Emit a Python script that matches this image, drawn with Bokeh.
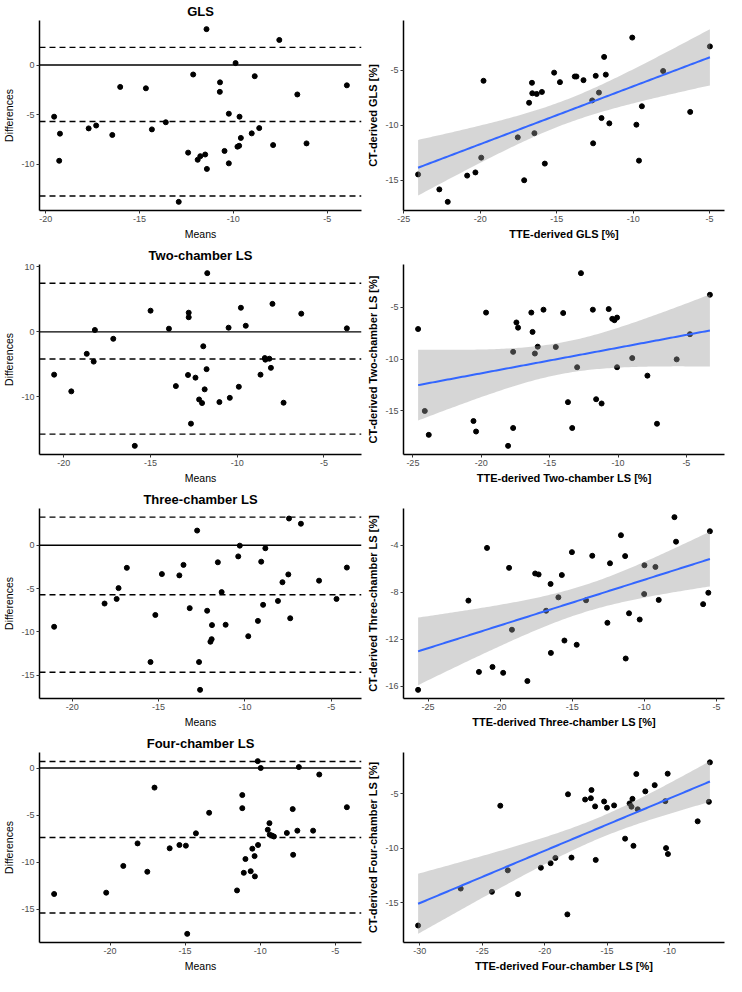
import numpy as np
from bokeh.plotting import figure
from bokeh.layouts import gridplot
from bokeh.models import Range1d, Span, FixedTicker
from bokeh.embed import file_html
from bokeh.resources import INLINE

# ---------------- data ----------------
panel_titles = ["GLS", "Two-chamber LS", "Three-chamber LS", "Four-chamber LS"]
scatter_xlabels = ["TTE-derived GLS [%]", "TTE-derived Two-chamber LS [%]",
                   "TTE-derived Three-chamber LS [%]", "TTE-derived Four-chamber LS [%]"]
scatter_ylabels = ["CT-derived GLS [%]", "CT-derived Two-chamber LS [%]",
                   "CT-derived Three-chamber LS [%]", "CT-derived Four-chamber LS [%]"]

gls_ba_mean = [-11.43, -7.55, -9.88, -12.14, -8.86, -10.71, -10.72, -16.03, -14.66, -6.59, -3.95, -19.55,
               -10.24, -9.67, -13.60, -17.71, -17.31, -19.24, -16.45, -14.34, -8.62, -9.60, -9.02, -19.28,
               -7.88, -6.10, -9.69, -9.78, -12.41, -11.50, -11.76, -11.90, -10.47, -10.24, -11.41, -12.91]
gls_ba_diff = [3.62, 2.53, 0.20, -0.95, -1.12, -1.74, -2.70, -2.20, -2.34, -2.96, -2.04, -5.20,
               -4.90, -5.20, -5.76, -6.38, -6.09, -6.91, -7.04, -6.48, -6.35, -7.34, -6.88, -9.64,
               -8.06, -7.89, -8.13, -8.22, -8.82, -9.01, -9.18, -9.54, -8.65, -9.90, -10.46, -13.78]
gls_ba_limits = [1.78, -5.69, -13.19]

gls_tte = [-24.07, -22.68, -22.13, -20.86, -20.32, -19.94, -19.79, -17.55, -17.13, -16.81, -16.62, -16.60,
           -16.31, -15.97, -16.46, -15.78, -15.17, -14.79, -13.82, -13.71, -13.25, -12.68, -12.62, -12.45,
           -12.24, -12.07, -11.90, -11.79, -11.56, -10.06, -9.79, -9.62, -9.43, -8.04, -6.27, -4.98]
gls_ct = [-14.47, -15.83, -16.96, -14.58, -14.29, -12.95, -5.98, -11.11, -15.00, -7.97, -6.16, -7.11,
          -7.17, -6.99, -10.73, -13.49, -5.24, -6.10, -5.59, -5.59, -5.92, -7.76, -11.65, -5.53,
          -7.05, -9.36, -3.81, -5.42, -9.84, -2.06, -9.96, -13.22, -8.29, -5.09, -8.80, -2.86]

two_ba_mean = [-11.73, -15.00, -12.80, -12.80, -9.79, -7.97, -6.31, -3.68, -18.21, -13.94, -10.50, -9.51,
               -17.15, -11.96, -18.68, -18.28, -8.41, -8.38, -8.15, -8.06, -11.77, -20.56, -12.84, -12.41,
               -8.66, -13.54, -9.91, -11.88, -19.57, -12.20, -12.03, -11.03, -10.43, -7.33, -12.67, -15.91]
two_ba_diff = [9.05, 3.27, 2.96, 2.26, 3.72, 4.32, 2.81, 0.55, 0.30, 0.50, 0.65, 0.95,
               -1.06, -2.21, -3.37, -4.57, -4.02, -4.27, -4.12, -5.53, -5.73, -6.58, -6.63, -7.04,
               -6.58, -8.34, -8.44, -8.84, -9.15, -10.40, -10.95, -10.80, -10.15, -10.90, -14.12, -17.54]
two_ba_limits = [7.49, -4.17, -15.73]

two_tte = [-24.62, -24.13, -23.84, -20.57, -20.38, -19.65, -18.04, -17.67, -17.67, -17.43, -17.31, -16.34,
           -16.25, -16.08, -15.87, -15.45, -14.55, -14.01, -13.66, -13.35, -12.99, -12.71, -11.84, -11.60,
           -11.20, -10.68, -10.42, -10.26, -10.07, -10.07, -8.96, -7.85, -7.15, -5.71, -4.74, -3.28]
two_ct = [-7.11, -15.00, -17.30, -15.97, -16.98, -5.53, -18.36, -9.31, -16.64, -6.48, -6.98, -5.53,
          -7.39, -9.47, -8.81, -5.25, -8.84, -5.57, -14.15, -16.64, -10.79, -1.73, -5.25, -13.87,
          -14.28, -5.19, -6.13, -6.26, -6.01, -10.79, -9.91, -11.60, -16.23, -10.03, -7.61, -3.81]

three_ba_mean = [-7.45, -6.76, -12.77, -10.30, -8.82, -10.39, -9.06, -11.57, -13.56, -16.84, -14.81, -13.80,
                 -4.10, -7.49, -7.83, -5.71, -17.32, -11.35, -17.43, -18.13, -4.70, -8.09, -8.95, -13.20,
                 -12.19, -15.19, -9.25, -7.38, -21.05, -11.91, -11.12, -9.81, -11.93, -12.00, -15.47, -12.66,
                 -12.60]
three_ba_diff = [3.09, 2.49, 1.70, -0.04, -0.34, -1.28, -1.89, -1.96, -2.26, -2.60, -3.32, -3.47,
                 -2.57, -3.36, -4.26, -4.08, -4.94, -5.40, -6.19, -6.72, -6.19, -6.42, -6.87, -7.25,
                 -7.55, -8.04, -8.72, -8.42, -9.40, -9.21, -9.17, -10.49, -10.83, -11.13, -13.47, -13.47,
                 -16.68]
three_ba_limits = [3.25, -5.70, -14.64]

three_tte = [-25.69, -22.20, -21.47, -20.91, -20.53, -19.79, -19.38, -19.18, -18.11, -17.57, -17.33, -16.81,
             -16.50, -16.48, -15.96, -15.72, -15.54, -15.02, -14.69, -14.04, -13.61, -12.56, -12.38, -11.62,
             -11.33, -11.29, -11.06, -10.32, -9.99, -10.01, -9.23, -9.00, -7.91, -7.80, -5.92, -5.56, -5.45]
three_ct = [-16.31, -8.71, -14.78, -4.22, -14.36, -14.86, -5.92, -11.19, -15.56, -6.40, -6.48, -9.57,
            -7.29, -13.16, -8.43, -6.53, -12.11, -4.58, -12.47, -8.68, -4.89, -10.60, -5.53, -3.14,
            -4.92, -13.64, -9.79, -10.32, -5.70, -8.15, -5.84, -8.65, -1.60, -3.69, -9.01, -8.04, -2.80]

four_ba_mean = [-10.16, -9.96, -7.42, -6.06, -17.04, -11.19, -11.19, -13.40, -7.83, -4.22, -9.38, -9.49,
                -9.36, -9.21, -9.08, -8.22, -7.52, -6.47, -14.28, -18.17, -16.03, -15.38, -14.95, -10.14,
                -10.52, -10.37, -10.98, -7.80, -19.12, -17.52, -11.09, -10.63, -10.35, -11.54, -23.73, -20.26,
                -14.86]
four_ba_diff = [0.73, 0.00, 0.10, -0.69, -2.08, -2.87, -4.26, -4.75, -4.36, -4.16, -5.85, -6.55,
                -7.07, -7.17, -7.27, -6.89, -6.65, -6.65, -6.93, -8.00, -8.52, -8.17, -8.24, -8.17,
                -8.56, -9.35, -9.66, -9.21, -10.39, -11.01, -11.12, -10.95, -11.50, -12.99, -13.37, -13.23,
                -17.60]
four_ba_limits = [0.69, -7.38, -15.38]

four_tte = [-30.13, -26.72, -24.22, -23.55, -22.95, -22.13, -20.30, -19.52, -19.14, -18.13, -18.18, -17.85,
            -16.76, -16.30, -16.25, -15.96, -15.91, -15.24, -15.01, -14.44, -13.56, -13.20, -13.05, -12.97,
            -12.89, -12.66, -12.55, -11.94, -11.19, -10.34, -10.28, -10.15, -10.13, -7.75, -6.85, -6.77]
four_ct = [-17.07, -13.68, -13.98, -6.08, -12.01, -14.19, -11.77, -11.35, -10.87, -5.03, -16.05, -10.84,
           -5.51, -5.39, -4.64, -6.14, -11.05, -5.69, -6.26, -6.05, -9.10, -5.87, -6.17, -5.45,
           -9.76, -3.17, -6.41, -4.76, -4.19, -5.66, -9.97, -3.14, -10.51, -7.51, -5.72, -2.10]

ba_xticks = [[-20, -15, -10, -5]] * 4
ba_yticks = [[-10, -5, 0], [-10, 0, 10], [-15, -10, -5, 0], [-15, -10, -5, 0]]
sc_xticks = [[-25, -20, -15, -10, -5], [-25, -20, -15, -10, -5], [-25, -20, -15, -10, -5], [-30, -25, -20, -15, -10]]
sc_yticks = [[-15, -10, -5], [-15, -10, -5], [-16, -12, -8, -4], [-15, -10, -5]]

# ---------------- helpers ----------------
FONT = "Liberation Sans"


def t975(df):
    z = 1.959964
    return z + (z ** 3 + z) / (4 * df) + (5 * z ** 5 + 16 * z ** 3 + 3 * z) / (96 * df ** 2)


def lm_band(x, y, n_grid=120):
    x = np.asarray(x, float)
    y = np.asarray(y, float)
    n = len(x)
    mx, my = x.mean(), y.mean()
    sxx = ((x - mx) ** 2).sum()
    b1 = ((x - mx) * (y - my)).sum() / sxx
    b0 = my - b1 * mx
    s = np.sqrt(((y - (b0 + b1 * x)) ** 2).sum() / (n - 2))
    g = np.linspace(x.min(), x.max(), n_grid)
    yh = b0 + b1 * g
    se = s * np.sqrt(1.0 / n + (g - mx) ** 2 / sxx)
    t = t975(n - 2)
    return g, yh, yh - t * se, yh + t * se


def expanded(vals):
    lo, hi = float(np.min(vals)), float(np.max(vals))
    r = hi - lo
    return Range1d(lo - 0.05 * r, hi + 0.05 * r)


def set_ticks(ax, ticks):
    ax.ticker = FixedTicker(ticks=ticks)
    ax.major_label_overrides = {t: str(t) for t in ticks}


def style(p, xlab, ylab, bold):
    p.xgrid.visible = False
    p.ygrid.visible = False
    p.outline_line_color = None
    p.background_fill_color = "white"
    p.border_fill_color = "white"
    for ax in (p.xaxis[0], p.yaxis[0]):
        ax.axis_line_color = "black"
        ax.axis_line_width = 1.5
        ax.major_tick_line_color = "#333333"
        ax.major_tick_line_width = 1
        ax.major_tick_out = 3
        ax.major_tick_in = 0
        ax.minor_tick_out = 0
        ax.minor_tick_in = 0
        ax.major_label_text_font = FONT
        ax.major_label_text_font_size = "9px"
        ax.major_label_text_color = "#4D4D4D"
        ax.major_label_standoff = 2
        ax.axis_label_text_font = FONT
        ax.axis_label_text_color = "black"
        ax.axis_label_text_font_style = "bold" if bold else "normal"
        ax.axis_label_text_font_size = "11px" if bold else "10.5px"
        ax.axis_label_standoff = 3
    p.xaxis[0].axis_label = xlab
    p.yaxis[0].axis_label = ylab


def make_ba(title, mean, diff, limits, xt, yt):
    p = figure(width=363, height=244, output_backend="svg", toolbar_location=None,
               x_range=expanded(mean), y_range=expanded(list(diff) + list(limits) + [0]),
               title=title, min_border_left=30, min_border_right=2,
               min_border_top=20, min_border_bottom=34)
    p.title.align = "center"
    p.title.text_font = FONT
    p.title.text_font_style = "bold"
    p.title.text_font_size = "13px"
    p.title.text_color = "black"
    p.title.standoff = 3
    p.add_layout(Span(location=0, dimension="width", line_color="black", line_width=1.4))
    for v in limits:
        p.add_layout(Span(location=v, dimension="width", line_color="black",
                          line_width=1.4, line_dash="6 4"))
    p.scatter(mean, diff, size=5, color="black")
    style(p, "Means", "Differences", False)
    set_ticks(p.xaxis[0], xt)
    set_ticks(p.yaxis[0], yt)
    return p


def make_sc(tte, ct, xlab, ylab, xt, yt):
    g, yh, lo, hi = lm_band(tte, ct)
    p = figure(width=363, height=244, output_backend="svg", toolbar_location=None,
               x_range=expanded(tte), y_range=expanded(list(ct) + list(lo) + list(hi)),
               min_border_left=40, min_border_right=2,
               min_border_top=20, min_border_bottom=34)
    p.scatter(tte, ct, size=5, color="black")
    p.varea(x=g, y1=lo, y2=hi, fill_color="#999999", fill_alpha=0.4)
    p.line(g, yh, line_color="#3366FF", line_width=2)
    style(p, xlab, ylab, True)
    set_ticks(p.xaxis[0], xt)
    set_ticks(p.yaxis[0], yt)
    return p


ba_sets = [(gls_ba_mean, gls_ba_diff, gls_ba_limits), (two_ba_mean, two_ba_diff, two_ba_limits),
           (three_ba_mean, three_ba_diff, three_ba_limits), (four_ba_mean, four_ba_diff, four_ba_limits)]
sc_sets = [(gls_tte, gls_ct), (two_tte, two_ct), (three_tte, three_ct), (four_tte, four_ct)]

rows = []
for i in range(4):
    m, d, lim = ba_sets[i]
    left = make_ba(panel_titles[i], m, d, lim, ba_xticks[i], ba_yticks[i])
    tx, cy = sc_sets[i]
    right = make_sc(tx, cy, scatter_xlabels[i], scatter_ylabels[i], sc_xticks[i], sc_yticks[i])
    rows.append([left, right])

layout = gridplot(rows, toolbar_location=None)
open("out.html", "w").write(file_html(layout, INLINE))
